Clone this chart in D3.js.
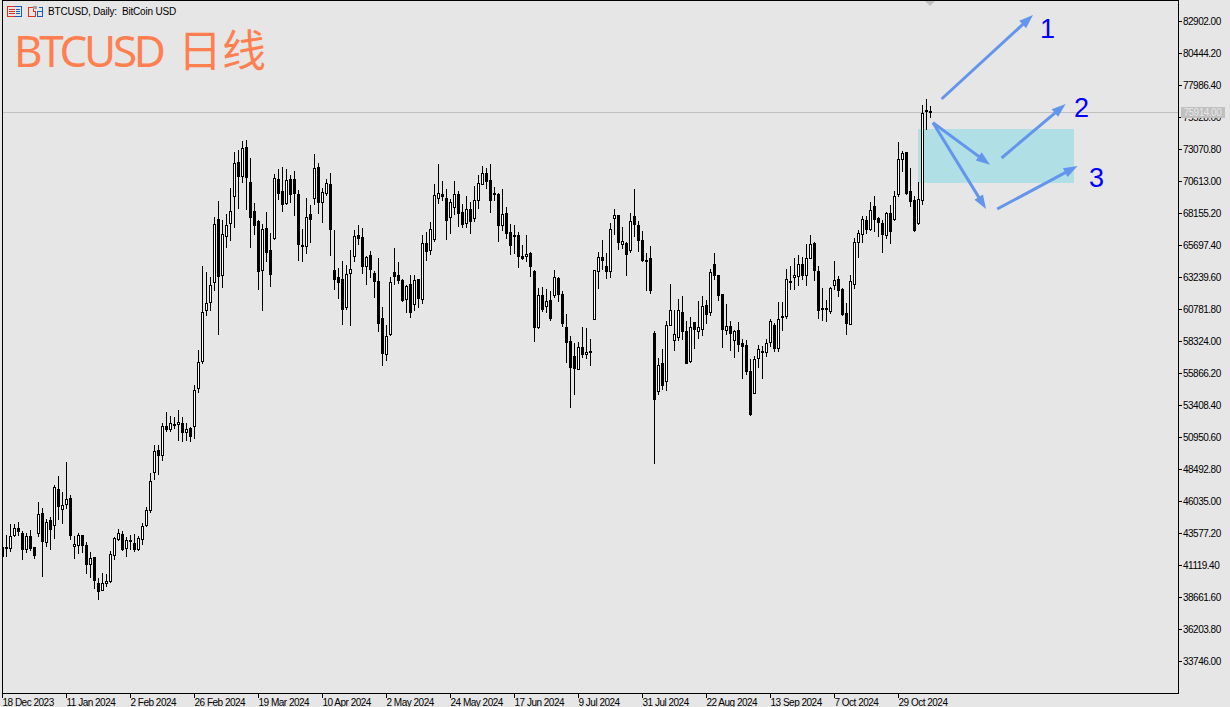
<!DOCTYPE html>
<html><head><meta charset="utf-8">
<script src="https://cdn.jsdelivr.net/npm/d3@7"></script>
<style>
html,body{margin:0;padding:0;background:#e6e6e6;overflow:hidden}
svg{display:block}
.axis text{font-family:"Liberation Sans",Arial,sans-serif;font-size:10px;letter-spacing:-.5px;fill:#000}
.axis line{stroke:#000}
</style></head><body><div id="chart"></div>
<script>
const opens=[42505,42505,42352,43350,43965,43581,42275,43350,42505,43504,45117,42812,44579,44118,46960,45347,45731,46269,42505,42582,43427,42659,41123,41737,39741,39126,39664,39818,41814,43043,43504,42352,43043,42812,42275,43043,44118,45270,48189,49955,49494,51798,51491,51952,51875,52029,51261,51645,51722,54640,56713,60630,61245,62781,67696,63318,66313,67312,69386,72073,70922,73226,70537,68310,67542,63702,67005,65315,66160,70768,69846,68848,70768,70768,69616,65699,65546,68080,69232,71689,68925,69616,70384,63779,63241,63088,60861,63472,64777,66467,66313,64010,64931,63549,62934,60093,57251,58787,63625,63395,63011,61475,62704,61091,63088,61475,65853,65238,66083,69232,69616,69309,67773,68541,69616,68233,67312,68464,67696,69078,70307,71229,70691,69693,69616,67158,68157,66697,66467,66467,64854,64777,65085,63702,59325,61859,60937,61475,61782,63165,61936,59401,58326,57174,56099,57865,57251,57558,59939,63625,64777,64086,63625,67696,68003,65699,65853,65238,67926,67235,66083,64547,64701,58940,54410,56636,55177,59478,58326,58557,60554,59094,56713,59785,59017,59171,61091,60477,64240,63395,61936,59094,59478,58326,59171,58173,58019,56022,54256,56944,57558,57405,58173,59555,57712,60246,60170,62934,63165,63241,64240,63318,64624,65853,63702,60861,60861,60554,62550,63088,62320,60477,59555,62627,65853,66467,67619,66851,68694,67773,67388,66390,68157,67619,69539,72227,72841,69846,69155,67312,69078,76067,75990];
const highs=[42582,43427,44272,44272,44425,43734,43581,43811,42505,45961,45501,44656,44809,47267,47958,46729,49033,46499,43350,43581,43427,42889,42121,41737,40125,40509,40432,42198,43273,43888,43734,43273,43427,43504,43350,44349,45577,48189,50339,50339,52029,52874,52566,52490,53027,52490,52029,51722,54947,57635,64086,63625,63241,67849,69078,67619,68080,70077,72841,72995,73686,73763,72381,68925,67619,67312,68233,66621,71152,71536,71689,71536,71075,71382,69923,66928,69309,68771,72688,71996,70077,70768,71229,66851,63933,64470,64163,65315,66851,67235,67005,64854,65238,63702,64701,60937,59555,63241,65469,64393,63088,62627,63395,63395,63088,66467,66697,67465,70384,71920,70614,70000,69232,70614,69846,68848,69462,69002,70230,71075,71766,71613,71920,70154,69693,70000,68617,67312,67235,66697,65699,66467,65161,63779,62396,62473,62320,62166,63779,63241,62166,60400,58710,58173,58249,59401,59325,58480,63779,65161,66083,65085,67388,68464,68003,67082,65929,68157,70000,67542,66774,65085,65622,59094,57021,57712,59862,62704,60707,61552,61782,59862,60170,59785,61398,61782,61475,63856,65085,63395,61936,61168,59862,59171,59785,58480,58403,56944,57174,58019,57942,58480,60016,59708,61322,61322,63856,64086,64701,64931,64777,65776,66467,65929,64086,62396,61475,62473,64470,63318,62396,61245,63395,66237,66851,67926,67926,69002,69462,67849,67619,68233,68771,69846,73609,72918,72841,71613,69462,70537,76451,76912,76374];
const lows=[41661,41737,42121,43273,43350,41507,42045,42198,41584,43273,40202,42505,42275,43120,44579,44272,45424,43043,41584,41968,42045,40432,40125,39280,38435,39126,39434,39741,41507,42966,42198,41737,42275,42121,42198,42659,44042,45117,47651,48035,49110,51338,51338,51568,50646,50569,50646,50569,50800,54333,56560,60246,60630,62166,58787,62396,65469,66006,67005,68464,70461,68387,65469,66467,62243,60630,64393,62473,66083,69155,68233,68771,68925,67926,64470,64393,65008,65853,68771,68080,67388,69462,64854,62243,61552,59555,60707,59478,64393,65699,63472,62627,63165,61629,59017,56406,56790,58710,62627,62704,61322,60477,60093,60630,60861,61168,64470,64931,65929,68848,69078,66083,66544,68003,67082,67005,67005,66544,67465,68464,70307,70000,68157,69078,65929,66774,66160,64931,65008,63933,64547,64393,63241,58249,59248,60554,60477,59862,61629,61322,59401,56636,53180,54179,56099,57021,56944,56406,59939,62320,63779,63088,63165,66467,65315,65392,63318,65085,66314,65161,64393,62166,61936,48879,54179,54563,54486,59478,57558,58326,58403,56560,56636,57712,58480,58710,59632,60246,63011,61398,57788,58787,57558,57021,57481,55408,55715,52566,54256,56253,55408,57098,57865,57481,57481,59094,60016,62243,62243,62550,63011,62550,64624,62934,60016,59862,59785,60400,62243,61706,60246,58787,59555,62320,64701,65853,66544,66774,66697,66314,65085,66160,65776,67542,69386,71306,69539,68617,66697,67235,68771,74531,75452];
const closes=[41737,42352,43350,43965,43658,42275,43350,42352,41814,45040,42889,44425,43811,47113,45577,45731,46192,43350,42735,43427,42582,41123,41661,39894,39050,39741,39894,41968,43196,43581,42275,43043,42889,42275,43196,44118,45347,47574,49878,49494,51798,51491,52029,51798,52105,51261,51568,50953,54563,56713,60554,61245,62627,67312,63241,66544,67235,68310,71996,70922,73149,70845,67773,67158,63625,66928,65085,63395,70845,69616,68771,70691,69539,69616,65699,65622,67849,67619,71613,68925,69770,70461,66851,63011,62781,60707,63472,63856,66390,66160,64010,64777,63779,62858,59632,57328,58710,62858,63241,62934,61398,62550,60477,63011,61552,65853,65161,66928,69539,69693,69386,67542,69002,69616,68080,67235,68464,67465,69155,70461,71229,70537,69078,69539,67158,68080,66544,65622,66313,64777,64624,65008,64010,59325,61859,60707,61398,60016,63241,61859,59632,58173,56253,56176,57865,57251,57481,57405,63779,64777,64470,63625,66928,68003,65853,66006,64931,67542,67235,66006,64470,64393,62166,53795,56483,54870,59555,60707,58864,60707,59017,56560,59401,59171,59401,61015,60323,63625,63318,61782,59171,59478,58864,59094,58019,57865,55945,52643,56944,57712,57405,58173,59862,57712,60016,60093,63088,62781,63395,64240,63318,64701,65776,63702,60630,60784,60707,62396,63011,62166,60323,59632,62934,65929,66621,67696,66851,68387,67619,67388,66467,68157,66697,69462,72304,72765,69616,69002,66774,69232,75837,75913,75914];

const priceTicks=[82902,80444.2,77986.4,75528.6,73070.8,70613,68155.2,65697.4,63239.6,60781.8,58324,55866.2,53408.4,50950.6,48492.8,46035,43577.2,41119.4,38661.6,36203.8,33746];
const dateLabels=["18 Dec 2023","11 Jan 2024","2 Feb 2024","26 Feb 2024","19 Mar 2024","10 Apr 2024","2 May 2024","24 May 2024","17 Jun 2024","9 Jul 2024","31 Jul 2024","22 Aug 2024","13 Sep 2024","7 Oct 2024","29 Oct 2024"];
const dateBarStep=16;
const lastPrice=75914;
const zone={bar0:229,bar1:268,hi:74608,lo:70461};
const arrows=[[234.9,76912,257.75,83363],[232.75,75092,247,71866],[232.75,75092,246,68464],[249.9,72381,265.9,76528],[248.8,68464,268.9,71766]];
const arrowLabels=[["1",259.5,84515-38*76.8],["2",268,84515-117*76.8],["3",271.75,84515-187*76.8]];
const titleLatin="BTCUSD";
const titleCjk="日线";
const headerText="BTCUSD, Daily:  BitCoin USD";

const W=1230,H=707,plotR=1178,plotB=693;
const x=d3.scaleLinear().domain([0,232]).range([2,930]);
const y=d3.scaleLinear().domain([82902,33746]).range([21,661]);
const svg=d3.select("#chart").append("svg").attr("width",W).attr("height",H);
svg.append("rect").attr("width",W).attr("height",H).attr("fill","#e6e6e6");
svg.append("defs").append("clipPath").attr("id","plot").append("rect").attr("x",2).attr("y",0).attr("width",plotR-2).attr("height",plotB);
const plot=svg.append("g").attr("clip-path","url(#plot)");

plot.append("rect").attr("x",x(zone.bar0)).attr("y",y(zone.hi)).attr("width",x(zone.bar1)-x(zone.bar0)).attr("height",y(zone.lo)-y(zone.hi)).attr("fill","#b0e0e6");
plot.append("rect").attr("x",0).attr("y",Math.round(y(lastPrice))).attr("width",plotR).attr("height",1).attr("fill","#c0c0c0");

const idx=d3.range(opens.length);
const c=plot.append("g").attr("shape-rendering","crispEdges");
c.selectAll("rect.w").data(idx).join("rect").attr("class","w")
 .attr("x",i=>x(i)).attr("y",i=>Math.round(y(highs[i]))).attr("width",1)
 .attr("height",i=>Math.max(1,Math.round(y(lows[i]))-Math.round(y(highs[i])))).attr("fill","#000");
c.selectAll("rect.b").data(idx).join("rect").attr("class","b")
 .attr("x",i=>x(i)-(closes[i]<opens[i]?1:.5))
 .attr("y",i=>Math.round(y(Math.max(opens[i],closes[i])))+(closes[i]<opens[i]?0:.5))
 .attr("width",i=>closes[i]<opens[i]?3:2)
 .attr("height",i=>{const h=Math.round(y(Math.min(opens[i],closes[i])))-Math.round(y(Math.max(opens[i],closes[i])));return closes[i]<opens[i]?Math.max(2,h):Math.max(1,h-1);})
 .attr("fill",i=>closes[i]<opens[i]?"#000":"#fff")
 .attr("stroke",i=>closes[i]<opens[i]?"none":"#000");

const arrowG=plot.append("g").attr("fill","#6495ed").attr("stroke","#6495ed");
arrows.forEach(a=>{
  const x0=x(a[0]),y0=y(a[1]),x1=x(a[2]),y1=y(a[3]);
  const L=Math.hypot(x1-x0,y1-y0),ux=(x1-x0)/L,uy=(y1-y0)/L,h=14,w=5;
  arrowG.append("line").attr("x1",x0).attr("y1",y0).attr("x2",x1-ux*h*.7).attr("y2",y1-uy*h*.7).attr("stroke-width",3);
  const bx=x1-ux*h,by=y1-uy*h;
  arrowG.append("polygon").attr("stroke","none").attr("points",[[x1,y1],[bx-uy*w,by+ux*w],[bx+uy*w,by-ux*w]].map(p=>p.join(",")).join(" "));
});
plot.selectAll("text.n").data(arrowLabels).join("text").attr("class","n")
 .attr("x",d=>x(d[1])).attr("y",d=>y(d[2])).text(d=>d[0])
 .attr("fill","#0000ff").attr("font-family","'Liberation Sans',Arial,sans-serif").attr("font-size",27);

// top marker at the last bar
const markX=x(232);
svg.append("path").attr("d",d3.line()([[markX-5,1],[markX+5,1],[markX,6]])+"Z").attr("fill","#c0c0c0");

// title
const title=svg.append("text").attr("y",67).attr("fill","#ff7f50")
 .attr("font-family","'Noto Sans','Noto Sans CJK SC',sans-serif").attr("font-size",44);
title.append("tspan").attr("x",14).attr("letter-spacing",-3.3).text(titleLatin);
title.append("tspan").attr("x",178).text(titleCjk);
svg.append("text").attr("x",48).attr("y",15).text(headerText).style("white-space","pre")
 .attr("font-family","'Liberation Sans',Arial,sans-serif").attr("font-size",10).attr("letter-spacing",-.2).attr("fill","#000");

// header icons
const ic=svg.append("g").attr("shape-rendering","crispEdges");
const r=(a,b,w,h,f)=>ic.append("rect").attr("x",a).attr("y",b).attr("width",w).attr("height",h).attr("fill",f);
r(7,6,8,1,"#e03020");r(7,16,8,1,"#e03020");r(7,6,1,11,"#e03020");
[9,11,13].forEach(b=>r(9,b,6,1,"#e03020"));
r(15,6,7,1,"#1060c0");r(15,16,7,1,"#1060c0");r(21,6,1,11,"#1060c0");
[9,11,13].forEach(b=>r(16,b,4,1,"#1060c0"));
r(28,7,1,10,"#e03020");r(28,7,5,1,"#e03020");r(28,16,8,1,"#e03020");r(35,11,1,6,"#e03020");r(33,7,1,4,"#e03020");r(33,11,2,1,"#e03020");
r(33,6,4,3,"#a0a0a0");
r(37,11,6,1,"#1060c0");r(37,16,6,1,"#1060c0");r(37,11,1,6,"#1060c0");r(42,7,1,10,"#1060c0");r(39,7,4,1,"#1060c0");

// axes
const yAxis=d3.axisRight(y).tickValues(priceTicks).tickFormat(d3.format(".2f")).tickSize(4).tickSizeOuter(0).tickPadding(1);
const gy=svg.append("g").attr("class","axis").attr("transform",`translate(${plotR},0)`).call(yAxis);
gy.select(".domain").remove();
const xAxis=d3.axisBottom(x).tickValues(dateLabels.map((_,k)=>k*dateBarStep)).tickFormat((_,k)=>dateLabels[k]).tickSize(5).tickSizeOuter(0);
const gx=svg.append("g").attr("class","axis").attr("transform",`translate(0,${plotB})`).call(xAxis);
gx.select(".domain").remove();
gx.selectAll("text").attr("text-anchor","start").attr("x",0).attr("y",6);

// frame
svg.append("path").attr("d",`M2.5,${plotB+.5}V.5H${plotR+.5}V${plotB+.5}Z`).attr("fill","none").attr("stroke","#000").attr("shape-rendering","crispEdges");

// last price tag
const tagY=Math.round(y(lastPrice));
svg.append("rect").attr("x",1181).attr("y",tagY-5).attr("width",44).attr("height",11).attr("fill","#c0c0c0");
svg.append("text").attr("class","tag").attr("x",1183.5).attr("y",tagY+4).text(d3.format(".2f")(lastPrice))
 .attr("fill","#e6e6e6").attr("font-family","'Liberation Sans',Arial,sans-serif").attr("font-size",10).attr("letter-spacing",-.5);
</script></body></html>
